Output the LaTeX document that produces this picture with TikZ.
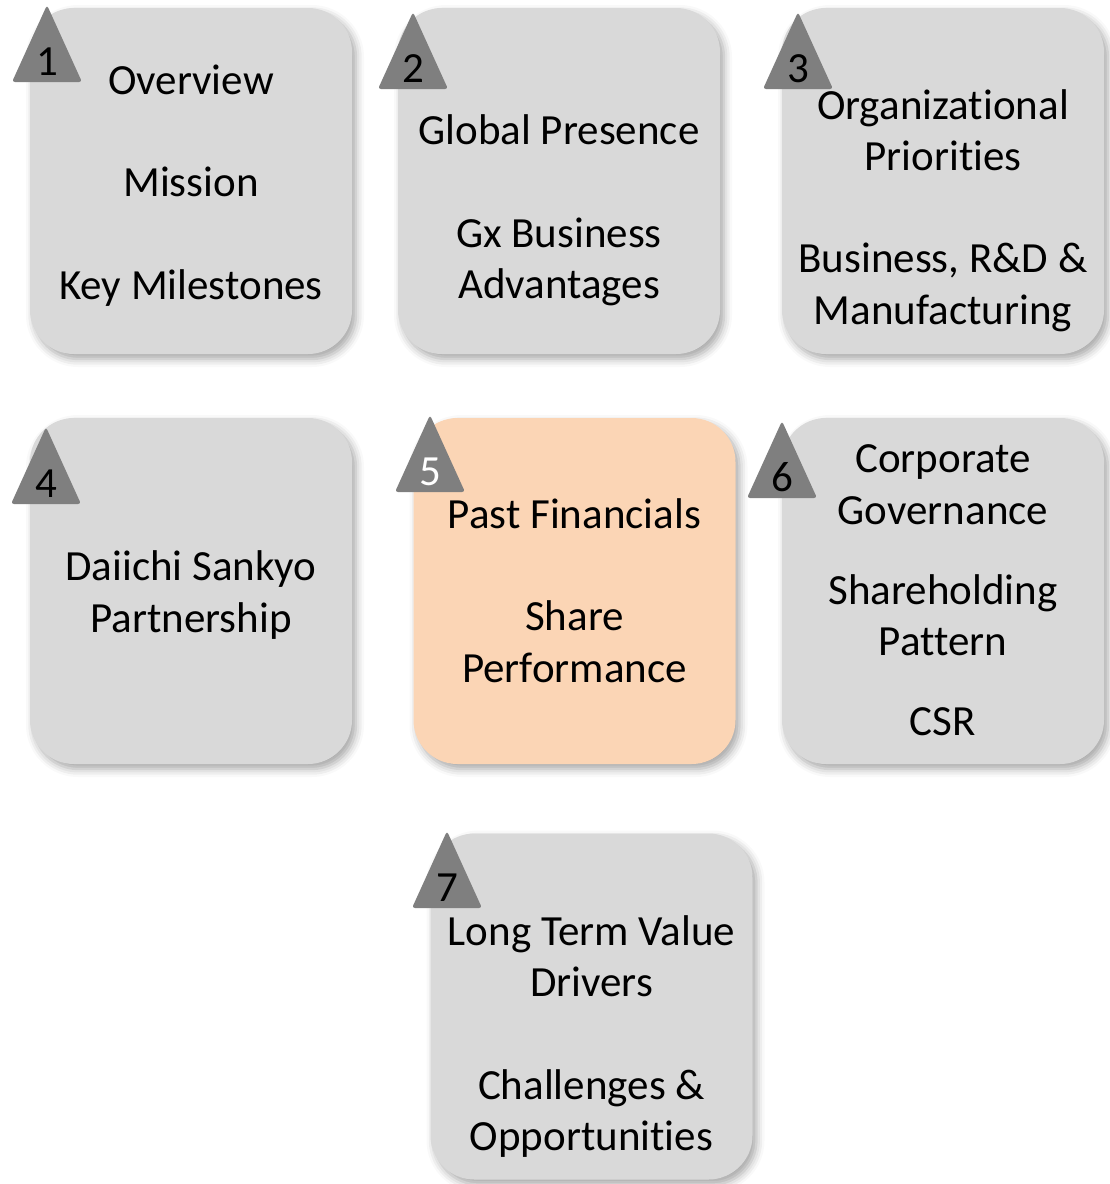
\documentclass[tikz,border=0pt]{standalone}
\usepackage{fontspec}
\setmainfont{Carlito}[Ligatures=NoCommon]
\usetikzlibrary{shadows, shadows.blur}
\definecolor{tilegray}{HTML}{D9D9D9}
\definecolor{tilepeach}{HTML}{FBD5B5}
\definecolor{taggray}{HTML}{7F7F7F}
\newcommand{\bodyfont}{\fontsize{21.5}{25.6}\selectfont}
\tikzset{
    tile/.style={
        fill=tilegray, rounded corners=22pt, inner sep=0pt,
        minimum width=161pt, minimum height=173pt,
        blur shadow={shadow xshift=2pt, shadow yshift=-2.5pt, shadow blur radius=4pt, shadow opacity=35}
    },
    hot/.style={tile, fill=tilepeach},
    body/.style={font=\bodyfont, align=center, inner sep=0pt},
    tag/.style={fill=taggray, rounded corners=1.5pt},
    tagnum/.style={font=\bodyfont, anchor=base, inner sep=0pt}
}
\begin{document}
\begin{tikzpicture}[x=0.5pt, y=-0.5pt]
    \useasboundingbox (0,0) rectangle (1109,1184);
    \def \gap {25.6pt}
    % tiles
    \node[tile] (b1) at (191,181) {};
    \node[tile] (b2) at (559,181) {};
    \node[tile] (b3) at (943,181) {};
    \node[tile] (b4) at (191,591) {};
    \node[hot]  (b5) at (574.5,591) {};
    \node[tile] (b6) at (943,591) {};
    \node[tile] (b7) at (591.5,1006.5) {};
    % texts
    \node[body] (t1) at (191,185.5) {Overview\\[\gap]Mission\\[\gap]Key Milestones};
    \node[body] (t2) at (559,210.5) {Global Presence\\[\gap]Gx Business\\Advantages};
    \node[body] (t3) at (943,210.5) {Organizational\\Priorities\\[\gap]Business, R\&D \&\\Manufacturing};
    \node[body] (t4) at (191,595) {Daiichi Sankyo\\Partnership};
    \node[body] (t5) at (574.5,590.5) {Past Financials\\[\gap]Share\\Performance};
    \node[body] (t6) at (943,590.5) {Corporate\\Governance\\[14.5pt]Shareholding\\Pattern\\[14.5pt]CSR};
    \node[body] (t7) at (591.5,1036.5) {Long Term Value\\Drivers\\[\gap]Challenges \&\\Opportunities};
    % number tags
    \foreach \n/\x/\y/\c in {1/47/82/black, 2/413/89/black, 3/798/89/black, 4/46/504/black,
                             5/430/492/white, 6/782/498/black, 7/447/908/black}{
        \fill[tag] (\x-35,\y) -- (\x,\y-77) -- (\x+35,\y) -- cycle;
        \node[tagnum, text=\c] (n\n) at (\x,\y-7) {\n};
    }
\end{tikzpicture}
\end{document}
